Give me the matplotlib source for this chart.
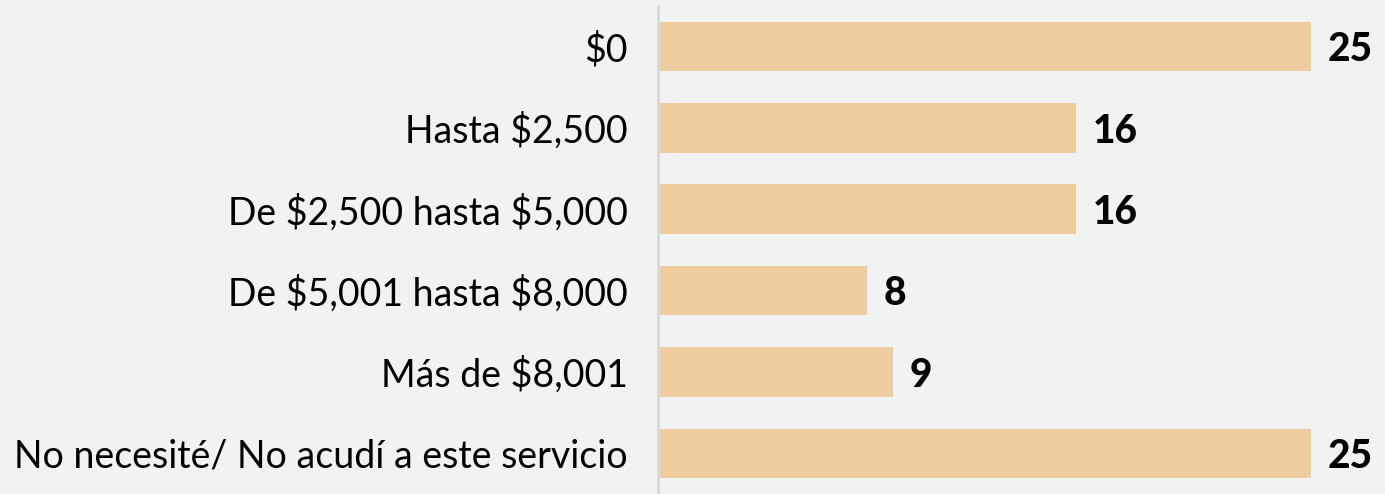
import matplotlib
matplotlib.use("Agg")
import matplotlib.pyplot as plt

categories = ["$0", "Hasta $2,500", "De $2,500 hasta $5,000",
              "De $5,001 hasta $8,000", "Más de $8,001",
              "No necesité/ No acudí a este servicio"]
values = [25, 16, 16, 8, 9, 25]

plt.rcParams['font.family'] = ['Lato', 'DejaVu Sans']
plt.rcParams['text.parse_math'] = False

fig = plt.figure(figsize=(13.85, 4.94), dpi=100, facecolor="#f2f2f2")
ax = fig.add_axes([0.4751, 0.0, 0.5249, 0.988])
ax.set_facecolor("#f2f2f2")

pos = range(len(categories))
ax.barh(pos, values, height=0.61, color="#efcc9f")
for p, v in zip(pos, values):
    ax.text(v + 0.65, p + 0.04, str(v), va="center", ha="left",
            fontsize=28, fontweight="black", color="black")

ax.set_xlim(0, 27.83)
ax.set_ylim(5.5, -0.5)
ax.set_yticks(list(pos))
ax.set_yticklabels(categories, fontsize=27)
ax.tick_params(axis="y", length=0, pad=22)
ax.set_xticks([])
for s in ["top", "right", "bottom"]:
    ax.spines[s].set_visible(False)
ax.spines["left"].set_color("#d9d9d9")
ax.spines["left"].set_linewidth(2)

fig.savefig("out.png", dpi=100, facecolor=fig.get_facecolor())
